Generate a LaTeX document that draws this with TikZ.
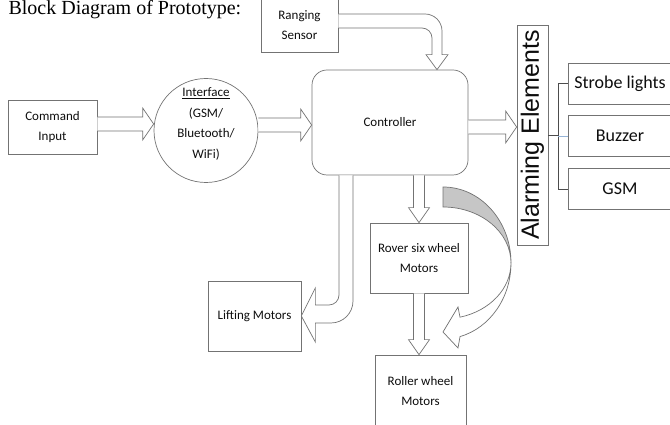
\documentclass[tikz,border=0pt]{standalone}
\usepackage{fontspec}
\setmainfont{Liberation Serif}
\newfontfamily\calibfont{Carlito}
\newfontfamily\arialfont{Liberation Sans}
\usepackage{tikz}
\usetikzlibrary{positioning, calc}

\definecolor{paleblue}{RGB}{150,180,215}

% hollow block arrows (straight ones)
\newcommand{\rightblock}[2]{%
  \draw[blockarrow] let \p1=(#1), \p2=(#2) in
    (\x1,\y1+7pt) -- (\x2-11pt,\y1+7pt) -- (\x2-11pt,\y1+16pt) -- (\x2,\y1)
    -- (\x2-11pt,\y1-16pt) -- (\x2-11pt,\y1-7pt) -- (\x1,\y1-7pt);}
\newcommand{\downblock}[2]{%
  \draw[blockarrow] let \p1=(#1), \p2=(#2) in
    (\x1-5.5pt,\y1) -- (\x1-5.5pt,\y2+15pt) -- (\x1-10.5pt,\y2+15pt) -- (\x1,\y2)
    -- (\x1+10.5pt,\y2+15pt) -- (\x1+5.5pt,\y2+15pt) -- (\x1+5.5pt,\y1);}

\begin{document}
\begin{tikzpicture}[x=1pt, y=1pt,
        % styles
        box/.style={draw=black!55, line width=0.7pt, text=black!95, inner sep=0pt, align=center, font=\calibfont\fontsize{13}{20.5}\selectfont},
        alarmbox/.style={box, minimum width=104pt, minimum height=41pt, font=\calibfont\fontsize{18}{22}\selectfont},
        blockarrow/.style={draw=black!55, line width=0.7pt, fill=white, line join=miter},
        link/.style={draw=black!70, line width=0.7pt} ]
    \useasboundingbox (0,0) rectangle (670,425);

    % --- title ---
    \node[anchor=base west, font=\fontsize{20}{24}\selectfont] (title) at (5,410.5) {Block Diagram of Prototype:};

    % --- blocks ---
    \node[box, minimum width=77pt, minimum height=54pt] (rng) at (299.5,400) {Ranging\\Sensor};
    \node[box, rounded corners=15pt, minimum width=156pt, minimum height=105pt] (ctrl) at (390,302.5) {Controller};
    \node[box, minimum width=89pt, minimum height=54pt] (cmd) at (52.5,298) {Command\\Input};
    \node[box, circle, minimum size=104pt] (iface) at (206,294.5) {};
    \node[box, draw=none] (ifacetext) at ($(iface)+(0,6.5)$) {\underline{Interface}\\(GSM/\\Bluetooth/\\WiFi)};
    \node[box, minimum width=93pt, minimum height=70pt] (lift) at (254.5,109) {Lifting Motors};
    \node[box, minimum width=98pt, minimum height=70pt] (rover) at (419,167) {Rover six wheel\\Motors};
    \node[box, minimum width=91pt, minimum height=72pt] (roller) at (420.5,34) {Roller wheel\\Motors};

    % rotated: north is its left side, south its right side
    \node[box, rotate=90, minimum width=220pt, minimum height=31pt, font=\arialfont\fontsize{25}{30}\selectfont] (alarm) at (532.5,290) {Alarming Elements};
    \node[alarmbox] (strobe) at (620,341.5) {Strobe lights};
    \node[alarmbox, below=11pt of strobe] (buzzer) {Buzzer};
    \node[alarmbox, below=11pt of buzzer] (gsm) {GSM};

    % --- CONNECTIONS ---
    \rightblock{$(cmd.east)+(0,3)$}{iface.west}
    \rightblock{$(iface.east)+(0,5.5)$}{ctrl.west}
    \rightblock{$(ctrl.east)+(0,-4.5)$}{alarm.north}
    \downblock{rover.north |- ctrl.south}{rover.north}
    \downblock{rover.south}{roller.north}

    % sensor into controller, bent
    \draw[blockarrow] let \p1=(rng.east), \p2=(ctrl.north) in
        (\x1,\y1+11pt) -- (\x2+35pt,\y1+11pt) arc[start angle=90, end angle=0, radius=17pt]
        -- (\x2+52pt,\y2+15pt) -- (\x2+58pt,\y2+15pt) -- (\x2+47pt,\y2) -- (\x2+36pt,\y2+15pt)
        -- (\x2+42pt,\y2+15pt) -- (\x2+42pt,\y1-13pt) arc[start angle=0, end angle=90, radius=10pt]
        -- (\x1,\y1-3pt);

    % controller down and into lifting motors
    \draw[blockarrow] let \p1=(ctrl.south), \p2=(lift.east) in
        (\x1-51pt,\y1) -- (\x1-51pt,\y2+21pt) arc[start angle=0, end angle=-90, radius=10pt]
        -- (\x2+14pt,\y2+11pt) -- (\x2+14pt,\y2+28pt) -- (\x2,\y2) -- (\x2+14pt,\y2-26pt)
        -- (\x2+14pt,\y2-7pt) -- (\x1-59pt,\y2-7pt) arc[start angle=-90, end angle=0, radius=22pt]
        -- (\x1-37pt,\y1);

    % curved arrow, shaded back face on top
    \coordinate (bend) at (443,162);
    \draw[blockarrow, fill=gray!45] ($(bend)+(68,0)$) arc[start angle=0, end angle=90, x radius=68pt, y radius=76pt]
        -- ++(0,-20) arc[start angle=90, end angle=0, x radius=68pt, y radius=56pt] -- cycle;
    \draw[blockarrow] ($(bend)+(68,0)$) arc[start angle=0, end angle=-75.5, x radius=68pt, y radius=76pt]
        -- ($(bend)+(15,-85)$) -- ($(bend)+(0,-69)$) -- ($(bend)+(15,-44)$)
        -- ($(bend)+(17,-54.2)$) arc[start angle=-75.5, end angle=0, x radius=68pt, y radius=56pt] -- cycle;

    % bracket to the alarm outputs
    \draw[link] (alarm.south) -- ++(10,0) coordinate (fork);
    \draw[link] (strobe.west) -| (fork) |- (gsm.west);
    \draw[link, draw=paleblue] (buzzer.west) -- (buzzer.west -| fork);

\end{tikzpicture}
\end{document}
